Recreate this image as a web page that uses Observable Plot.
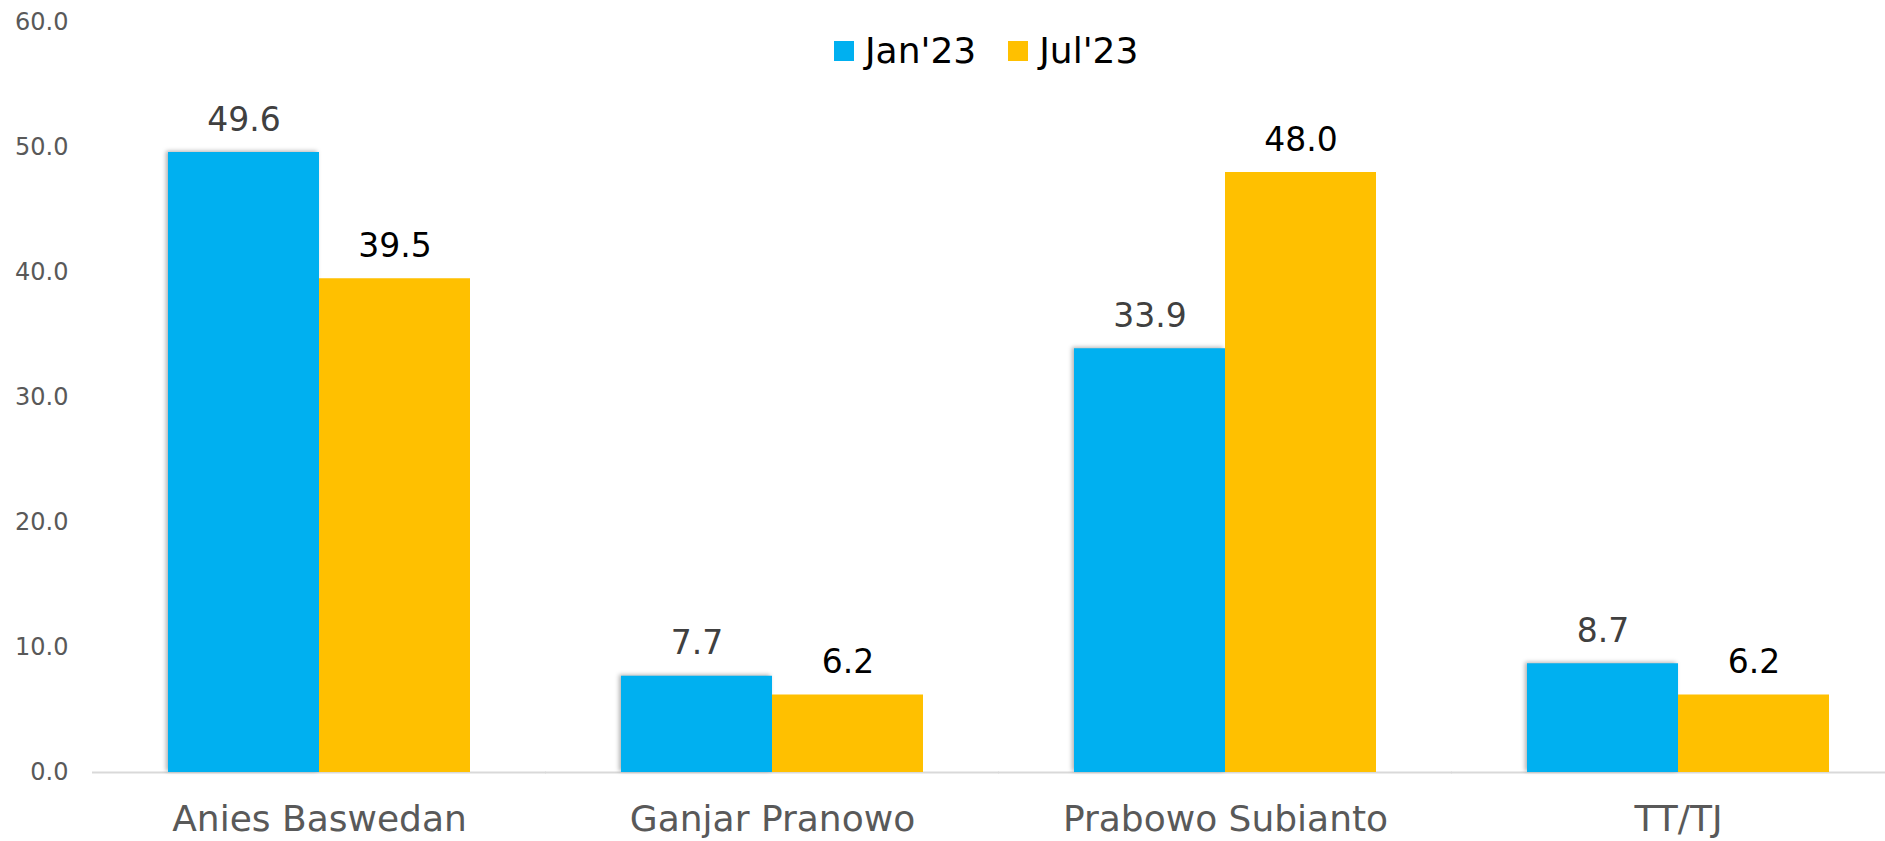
<!DOCTYPE html>
<html><head><meta charset="utf-8">
<script src="https://cdn.jsdelivr.net/npm/d3@7"></script>
<script src="https://cdn.jsdelivr.net/npm/@observablehq/plot@0.6"></script>
<style>
body{margin:0;background:#fff;font-family:"DejaVu Sans",sans-serif}
#wrap{position:relative;width:1885px;height:841px;overflow:hidden}
#legend{position:absolute;top:33px;left:834px;display:flex;align-items:center;font-size:36px;line-height:1;color:#000}
#legend .sw{width:20px;height:20px;display:inline-block;margin-right:11px}
#legend .item{display:flex;align-items:center;margin-right:32px}
rect[fill="#00b0f0" i]{filter:drop-shadow(-2px -1px 2px rgba(0,0,0,.3))}
</style></head><body><div id="wrap"><div id="legend"></div></div>
<script>
const categories = ["Anies Baswedan","Ganjar Pranowo","Prabowo Subianto","TT/TJ"];
const seriesNames = ["Jan'23","Jul'23"];
const jan = [49.6, 7.7, 33.9, 8.7];
const jul = [39.5, 6.2, 48.0, 6.2];
const seriesColors = ["#00B0F0","#FFC000"];
const labelColors = ["#404040","#000000"];
const yTicks = [0,10,20,30,40,50,60];

const data = categories.flatMap((c,i)=>[
  {cat:c, series:seriesNames[0], value:jan[i]},
  {cat:c, series:seriesNames[1], value:jul[i]}
]);

const chart = Plot.plot({
  width:1885, height:841, marginLeft:92, marginRight:0, marginTop:22, marginBottom:69,
  style:{fontFamily:"'DejaVu Sans', sans-serif", background:"transparent", overflow:"visible"},
  fx:{domain:categories, paddingInner:0.3325, paddingOuter:0.144, align:0.579, label:null},
  x:{domain:seriesNames, padding:0, axis:null},
  y:{domain:[0,60], label:null},
  color:{domain:seriesNames, range:seriesColors},
  marks:[
    Plot.axisY({ticks:yTicks, tickFormat:d3.format(".1f"), tickSize:0, tickPadding:100, fontSize:24, fill:"#595959", label:null}),
    Plot.axisFx({anchor:"bottom", tickSize:0, tickPadding:33, fontSize:36, fill:"#595959", label:null}),
    Plot.ruleY([0],{stroke:"#D9D9D9", strokeWidth:2, insetLeft:-76, insetRight:-76}),
    Plot.barY(data,{fx:"cat", x:"series", y:"value", fill:"series", inset:0}),
    Plot.text(data,{fx:"cat", x:"series", y:"value", text:d=>d.value.toFixed(1), lineAnchor:"bottom", dy:-22, fontSize:33,
      fill:d=>labelColors[seriesNames.indexOf(d.series)]})
  ]
});
document.getElementById("wrap").appendChild(chart);

const leg = document.getElementById("legend");
seriesNames.forEach((s,i)=>{
  const it = document.createElement("span"); it.className="item";
  const sw = document.createElement("span"); sw.className="sw"; sw.style.background=seriesColors[i];
  it.appendChild(sw); it.appendChild(document.createTextNode(s)); leg.appendChild(it);
});
</script></body></html>
